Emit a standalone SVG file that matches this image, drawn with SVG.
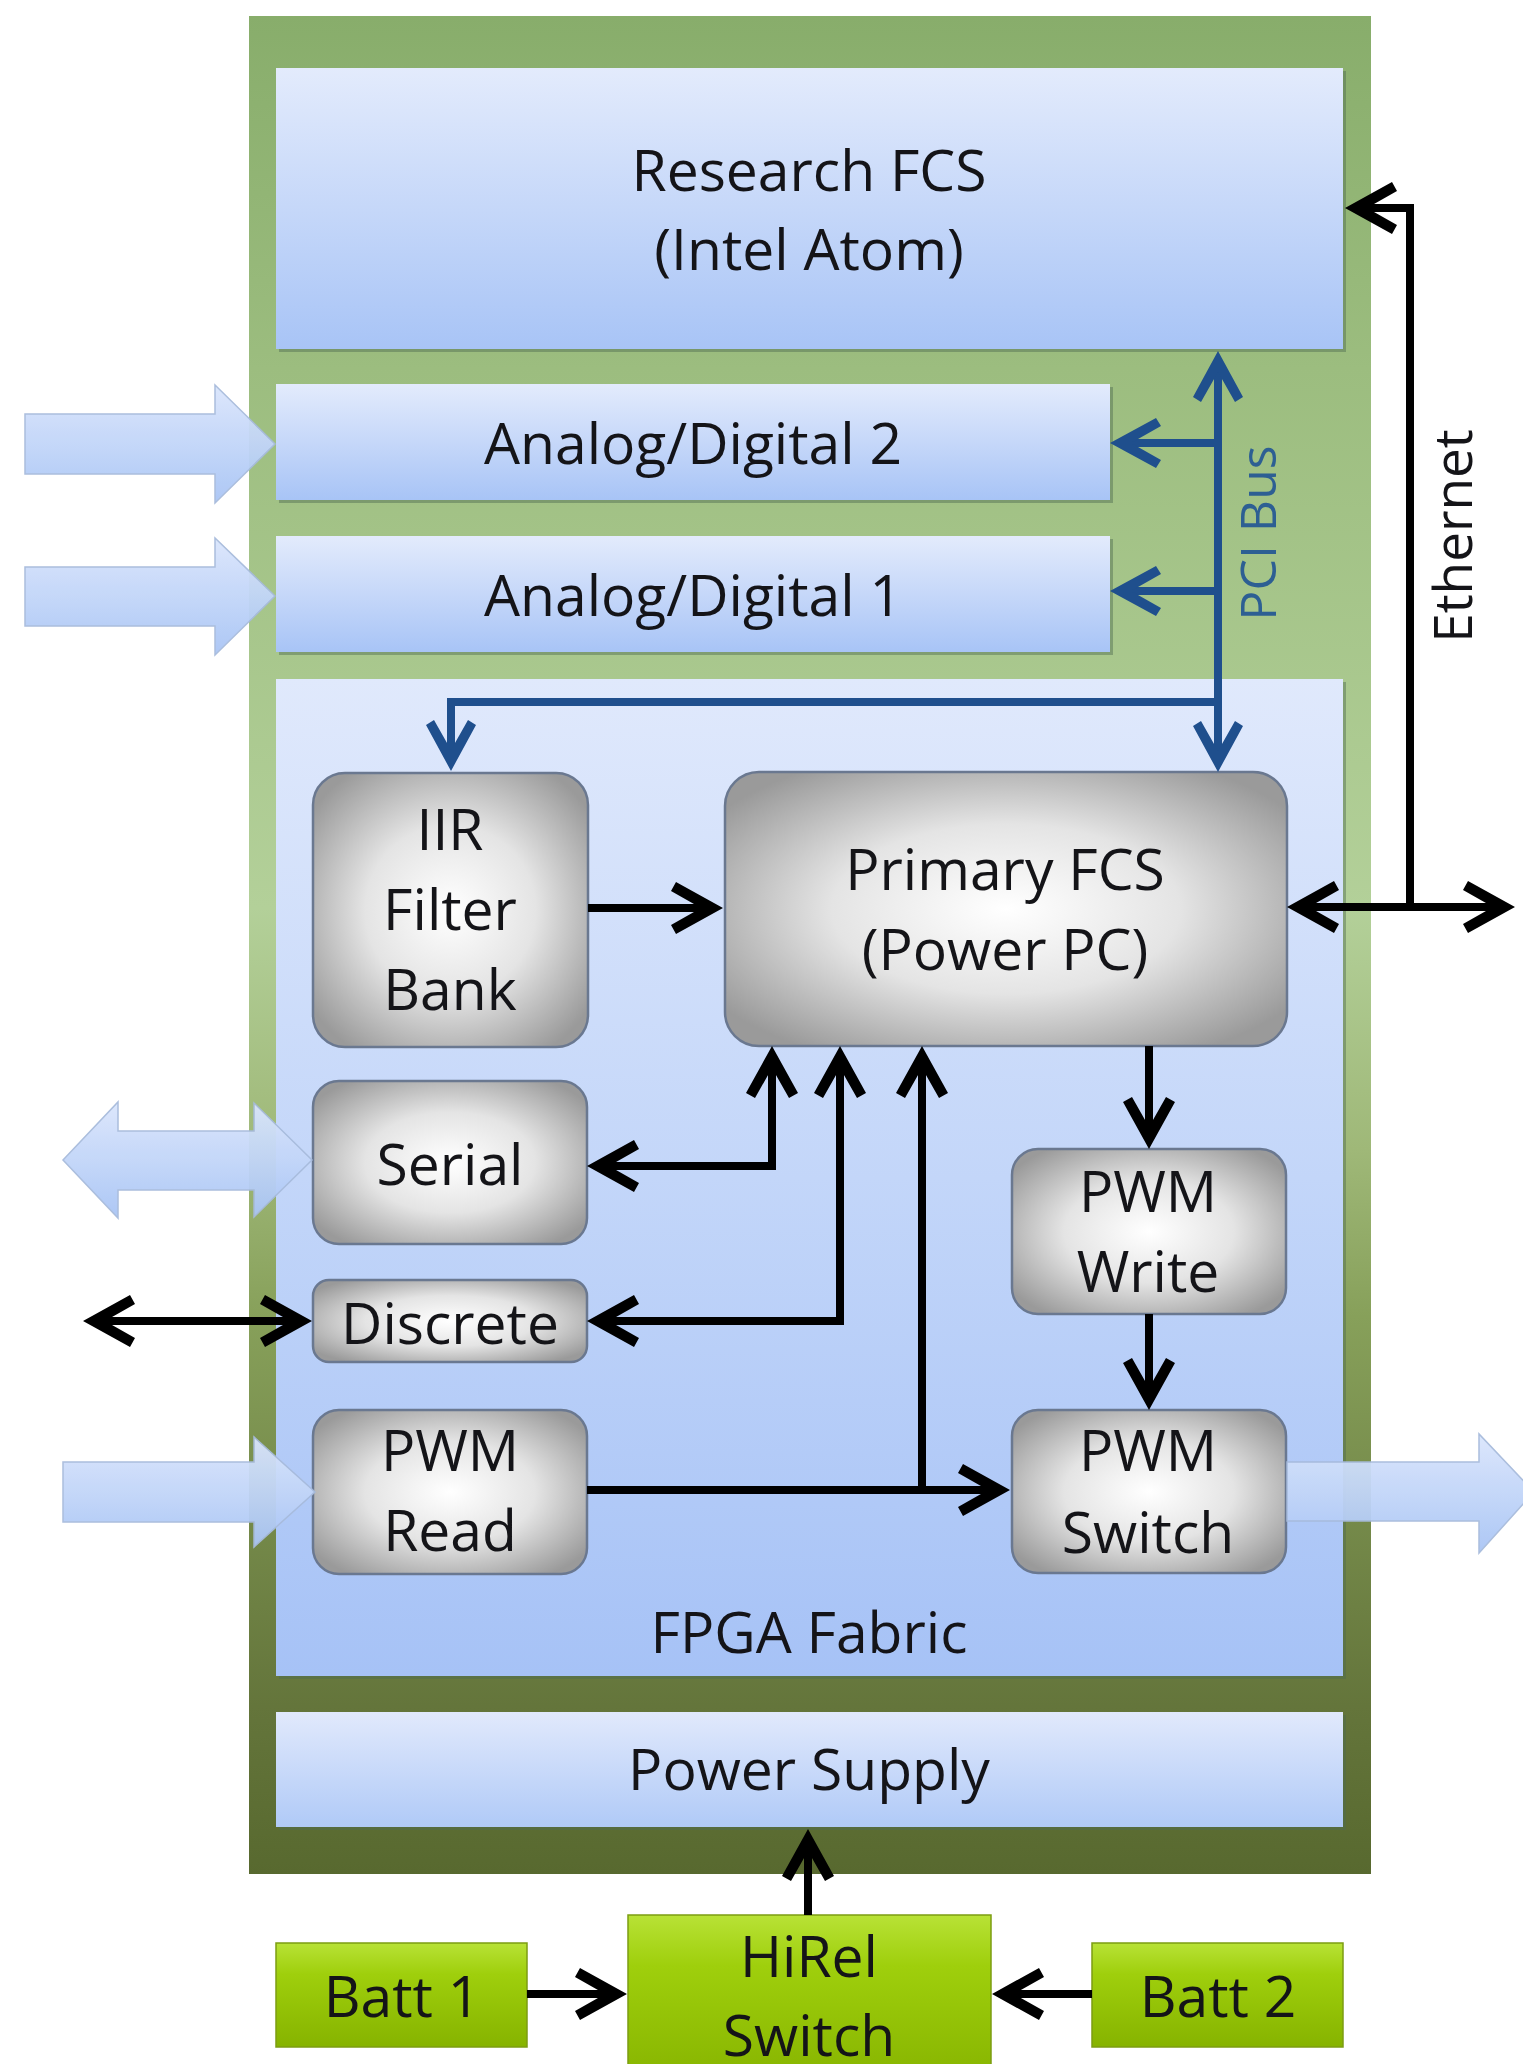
<svg xmlns="http://www.w3.org/2000/svg" width="1523" height="2064" viewBox="0 0 1523 2064">
<defs>
<linearGradient id="gOuter" x1="0" y1="0" x2="0" y2="1">
<stop offset="0" stop-color="#88ad6b"/>
<stop offset="0.19" stop-color="#9cbd7f"/>
<stop offset="0.48" stop-color="#b3d099"/>
<stop offset="0.61" stop-color="#9fb878"/>
<stop offset="0.70" stop-color="#87a05a"/>
<stop offset="0.91" stop-color="#64753b"/>
<stop offset="1" stop-color="#58692f"/>
</linearGradient>
<linearGradient id="gBlue" x1="0" y1="0" x2="0" y2="1">
<stop offset="0" stop-color="#e3ebfc"/>
<stop offset="1" stop-color="#a8c4f6"/>
</linearGradient>
<linearGradient id="gFpga" x1="0" y1="0" x2="0" y2="1">
<stop offset="0" stop-color="#e0e9fc"/>
<stop offset="0.5" stop-color="#c3d6f9"/>
<stop offset="1" stop-color="#a6c2f6"/>
</linearGradient>
<linearGradient id="gPS" x1="0" y1="0" x2="0" y2="1">
<stop offset="0" stop-color="#e1e9fc"/>
<stop offset="1" stop-color="#b0caf7"/>
</linearGradient>
<linearGradient id="gArrow" x1="0" y1="0" x2="0" y2="1">
<stop offset="0" stop-color="#dbe6fc"/>
<stop offset="1" stop-color="#a9c5f5"/>
</linearGradient>
<radialGradient id="gGray" cx="0.5" cy="0.5" r="0.62">
<stop offset="0" stop-color="#ffffff"/>
<stop offset="0.5" stop-color="#e4e4e4"/>
<stop offset="1" stop-color="#9a9a9a"/>
</radialGradient>
<linearGradient id="gLime" x1="0" y1="0" x2="0" y2="1">
<stop offset="0" stop-color="#b8e236"/>
<stop offset="0.3" stop-color="#9fcf0c"/>
<stop offset="1" stop-color="#86b300"/>
</linearGradient>
<marker id="ah" markerUnits="userSpaceOnUse" orient="auto-start-reverse" refX="0" refY="0" markerWidth="80" markerHeight="80" overflow="visible">
<path d="M12,0 L-35,-26 L-40,-17 L-10,0 L-40,17 L-35,26 Z" fill="#000"/>
</marker>
<marker id="ahb" markerUnits="userSpaceOnUse" orient="auto-start-reverse" refX="0" refY="0" markerWidth="80" markerHeight="80" overflow="visible">
<path d="M12,0 L-34,-25 L-39,-17 L-9,0 L-39,17 L-34,25 Z" fill="#1f4f8d"/>
</marker>
</defs>
<style>
text{font-family:"Open Sans","Liberation Sans",sans-serif;font-size:57px;fill:#141418;text-anchor:middle}
.blue{fill:url(#gBlue)}
.shadow{fill:#4d6b4f;opacity:0.45}
.gray{fill:url(#gGray);stroke:#6a7890;stroke-width:2.5}
.lime{fill:url(#gLime);stroke:#7c9d12;stroke-width:1.5}
.blk{fill:url(#gArrow);stroke:#a7bbdc;stroke-width:1.5;opacity:0.95}
.cb{fill:none;stroke:#000;stroke-width:8}
.cp{fill:none;stroke:#1f4f8d;stroke-width:8}
</style>

<g id="outer">
<rect x="249" y="16" width="1122" height="1858" fill="url(#gOuter)"/>
</g>

<g id="research-fcs">
<rect x="279" y="71" width="1067" height="281" class="shadow"/>
<rect x="276" y="68" width="1067" height="281" class="blue"/>
<text x="809" y="191">Research FCS</text>
<text x="809" y="270">(Intel Atom)</text>
</g>

<g id="ad2">
<rect x="279" y="387" width="834" height="116" class="shadow"/>
<rect x="276" y="384" width="834" height="116" class="blue"/>
<text x="693" y="464">Analog/Digital 2</text>
</g>

<g id="ad1">
<rect x="279" y="539" width="834" height="116" class="shadow"/>
<rect x="276" y="536" width="834" height="116" class="blue"/>
<text x="693" y="616">Analog/Digital 1</text>
</g>

<g id="fpga-fabric">
<rect x="279" y="682" width="1067" height="997" class="shadow"/>
<rect x="276" y="679" width="1067" height="997" fill="url(#gFpga)"/>
<text x="809" y="1653">FPGA Fabric</text>
</g>

<g id="power-supply">
<rect x="279" y="1715" width="1067" height="115" class="shadow"/>
<rect x="276" y="1712" width="1067" height="115" fill="url(#gPS)"/>
<text x="809" y="1790">Power Supply</text>
</g>

<g id="iir">
<rect x="313" y="773" width="275" height="274" rx="32" class="gray"/>
<text x="450" y="850">IIR</text>
<text x="450" y="930">Filter</text>
<text x="450" y="1010">Bank</text>
</g>

<g id="primary-fcs">
<rect x="725" y="772" width="562" height="274" rx="34" class="gray"/>
<text x="1005" y="890">Primary FCS</text>
<text x="1005" y="970">(Power PC)</text>
</g>

<g id="serial">
<rect x="313" y="1081" width="274" height="163" rx="26" class="gray"/>
<text x="450" y="1185">Serial</text>
</g>

<g id="discrete">
<rect x="313" y="1280" width="274" height="82" rx="16" class="gray"/>
<text x="450" y="1344">Discrete</text>
</g>

<g id="pwm-read">
<rect x="313" y="1410" width="274" height="164" rx="26" class="gray"/>
<text x="450" y="1471">PWM</text>
<text x="450" y="1551">Read</text>
</g>

<g id="pwm-write">
<rect x="1012" y="1149" width="274" height="165" rx="26" class="gray"/>
<text x="1148" y="1212">PWM</text>
<text x="1148" y="1292">Write</text>
</g>

<g id="pwm-switch">
<rect x="1012" y="1410" width="274" height="163" rx="26" class="gray"/>
<text x="1148" y="1471">PWM</text>
<text x="1148" y="1553">Switch</text>
</g>

<g id="hirel-switch">
<rect x="628" y="1915" width="363" height="170" class="lime"/>
<text x="809" y="1977">HiRel</text>
<text x="809" y="2056">Switch</text>
</g>

<g id="batt1">
<rect x="276" y="1943" width="251" height="104" class="lime"/>
<text x="402" y="2017">Batt 1</text>
</g>

<g id="batt2">
<rect x="1092" y="1943" width="251" height="104" class="lime"/>
<text x="1218" y="2017">Batt 2</text>
</g>

<g id="connectors">
<path class="blk" d="M25,414 H215 V385 L275,444 L215,503 V474 H25 Z"/>
<path class="blk" d="M25,567 H215 V538 L275,596 L215,655 V626 H25 Z"/>
<path class="blk" d="M63,1160 L118,1102 V1131 H254 V1103 L312,1160 L254,1217 V1190 H118 V1218 Z"/>
<path class="blk" d="M63,1462 H254 V1437 L315,1492 L254,1547 V1522 H63 Z"/>
<path class="blk" d="M1287,1462 H1479 V1434 L1534,1492 L1479,1553 V1521 H1287 Z"/>

<path class="cp" stroke-width="10" d="M1218,363 V760" marker-start="url(#ahb)" marker-end="url(#ahb)"/>
<path class="cp" d="M1218,443 H1122" marker-end="url(#ahb)"/>
<path class="cp" d="M1218,591 H1122" marker-end="url(#ahb)"/>
<path class="cp" d="M1218,702 H451 V759" marker-end="url(#ahb)"/>

<path class="cb" d="M1299,907 H1503" marker-start="url(#ah)" marker-end="url(#ah)"/>
<path class="cb" d="M1410,907 V208 H1357" marker-end="url(#ah)"/>

<path class="cb" d="M588,908 H711" marker-end="url(#ah)"/>
<path class="cb" d="M599,1166 H772 V1058" marker-start="url(#ah)" marker-end="url(#ah)"/>
<path class="cb" d="M599,1321 H840 V1058" marker-start="url(#ah)" marker-end="url(#ah)"/>
<path class="cb" d="M587,1490 H998" marker-end="url(#ah)"/>
<path class="cb" d="M922,1490 V1058" marker-end="url(#ah)"/>
<path class="cb" d="M1149,1046 V1137" marker-end="url(#ah)"/>
<path class="cb" d="M1149,1314 V1398" marker-end="url(#ah)"/>
<path class="cb" d="M95,1321 H300" marker-start="url(#ah)" marker-end="url(#ah)"/>

<path class="cb" d="M808,1915 V1841" marker-end="url(#ah)"/>
<path class="cb" stroke-width="10" d="M527,1994 H615" marker-end="url(#ah)"/>
<path class="cb" stroke-width="10" d="M1092,1994 H1004" marker-end="url(#ah)"/>

<text x="0" y="0" transform="translate(1258,533) rotate(-90)" dy="18" style="font-size:50px;fill:#2d5f93">PCI Bus</text>
<text x="0" y="0" transform="translate(1453,536) rotate(-90)" dy="19" style="font-size:53px">Ethernet</text>
</g>
</svg>
